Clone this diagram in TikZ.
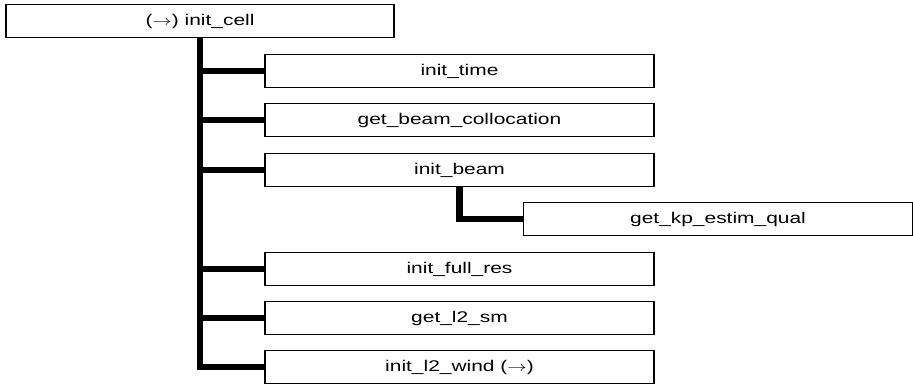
\documentclass[tikz,border=0pt]{standalone}
\usepackage{fontspec}
\setmainfont{Liberation Sans}
\newcommand{\tx}[1]{\scalebox{1.35}[1]{#1}}
\begin{document}
\begin{tikzpicture}[x=1pt,y=-1pt,
  box/.style={draw, line width=1.6pt, minimum width=389pt, minimum height=33pt, inner sep=0pt, fill=white,
    font=\fontsize{15.5}{18}\selectfont},
  conn/.style={line width=6.5pt}]
\useasboundingbox (0,0) rectangle (913,387);
\node[box, minimum width=388pt] (root) at (200,21) {\tx{($\rightarrow$) init\_cell}};
\node[box] (c1) at (459.5,71) {\tx{init\_time}};
\node[box] (c2) at (459.5,120) {\tx{get\_beam\_collocation}};
\node[box] (c3) at (459.5,170) {\tx{init\_beam}};
\node[box] (k) at (718,219) {\tx{get\_kp\_estim\_qual}};
\node[box] (c4) at (459.5,269) {\tx{init\_full\_res}};
\node[box] (c5) at (459.5,318) {\tx{get\_l2\_sm}};
\node[box] (c6) at (459.5,367) {\tx{init\_l2\_wind ($\rightarrow$)}};
\begin{scope}[on background layer/.try]
\draw[conn] (root.south) |- (c6.west);
\foreach \c in {c1,c2,c3,c4,c5}{\draw[conn] (root.south |- \c.west) -- (\c.west);}
\draw[conn] (c3.south) |- (k.west);
\end{scope}
\end{tikzpicture}
\end{document}
